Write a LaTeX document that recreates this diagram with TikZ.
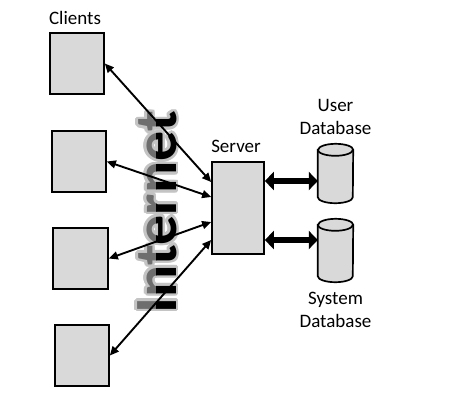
\documentclass[tikz,border=0pt]{standalone}
\usepackage{fontspec}
\setmainfont{Carlito}
\usetikzlibrary{arrows.meta}
\definecolor{boxgray}{HTML}{D9D9D9}
\definecolor{inetgray}{HTML}{6E6E6E}
\definecolor{halogray}{HTML}{C4C4C4}
\begin{document}
\begin{tikzpicture}[x=1pt,y=-1pt,
  box/.style={draw=black, line width=1.7pt, fill=boxgray, inner sep=0pt},
  lbl/.style={font=\fontsize{19}{23}\selectfont, align=center, inner sep=0pt},
  link/.style={line width=1.9pt, {Triangle[length=9pt,width=8pt]}-{Triangle[length=9pt,width=8pt]}},
  dblink/.style={line width=6.5pt, {Triangle[length=9pt,width=18pt]}-{Triangle[length=9pt,width=18pt]}},
  inet/.style={font=\fontsize{60}{62}\bfseries\selectfont, rotate=90, inner sep=0pt}]
\useasboundingbox (0,0) rectangle (452,408);

% "Internet" watermark: soft halo, grey upper half, black lower half
\foreach \a in {0,22.5,...,337.5}
  \node[inet, text=halogray, shift={(\a:2.6pt)}] at (157,212) {Internet};
\begin{scope}
  \clip (0,0) rectangle (156,408);
  \node[inet, text=inetgray] (inet) at (157,212) {Internet};
\end{scope}
\begin{scope}
  \clip (156,0) rectangle (452,408);
  \node[inet, text=black] at (157,212) {Internet};
\end{scope}

% clients
\node[box, minimum width=54pt, minimum height=61pt] (c1) at (77,63.5) {};
\node[box, minimum width=54pt, minimum height=61pt] (c2) at (79,161.5) {};
\node[box, minimum width=55pt, minimum height=61pt] (c3) at (80.5,258.5) {};
\node[box, minimum width=54pt, minimum height=61pt] (c4) at (82,355.5) {};
\node[lbl] (clab) at (75,18) {Clients};

% server
\node[box, minimum width=52pt, minimum height=92pt] (server) at (238,208) {};
\node[lbl] (slab) at (236,146.5) {Server};

% databases (outline nodes, cylinders drawn on them)
\node[minimum width=35pt, minimum height=59pt, inner sep=0pt] (udb) at (335.5,173.5) {};
\node[minimum width=35pt, minimum height=63pt, inner sep=0pt] (sdb) at (335.5,250.5) {};
\foreach \d in {udb,sdb} {
  \draw[line width=1.7pt, fill=boxgray]
    ([yshift=-6pt]\d.north west) -- ([yshift=6pt]\d.south west)
    arc[start angle=180, end angle=360, x radius=17.5pt, y radius=6pt]
    -- ([yshift=-6pt]\d.north east)
    arc[start angle=0, end angle=180, x radius=17.5pt, y radius=6pt] -- cycle;
  \draw[line width=1.7pt] ([yshift=-6pt]\d.north west)
    arc[start angle=180, end angle=360, x radius=17.5pt, y radius=6pt];
}
\node[lbl, anchor=south] (ulab) at (335.5,135) {User\\Database};
\node[lbl, anchor=south] (sylab) at (335.5,328) {System\\Database};

% connections
\draw[link] ([yshift=26pt]server.west) -- (c1.east);
\draw[link] ([yshift=11pt]server.west) -- (c2.east);
\draw[link] ([yshift=-14pt]server.west) -- (c3.east);
\draw[link] ([yshift=-32pt]server.west) -- (c4.east);

\coordinate (ua) at ([yshift=-7.5pt]udb.west);
\coordinate (sa) at ([yshift=10.5pt]sdb.west);
\draw[dblink] (server.east |- ua) -- (ua);
\draw[dblink] (server.east |- sa) -- (sa);
\end{tikzpicture}
\end{document}
